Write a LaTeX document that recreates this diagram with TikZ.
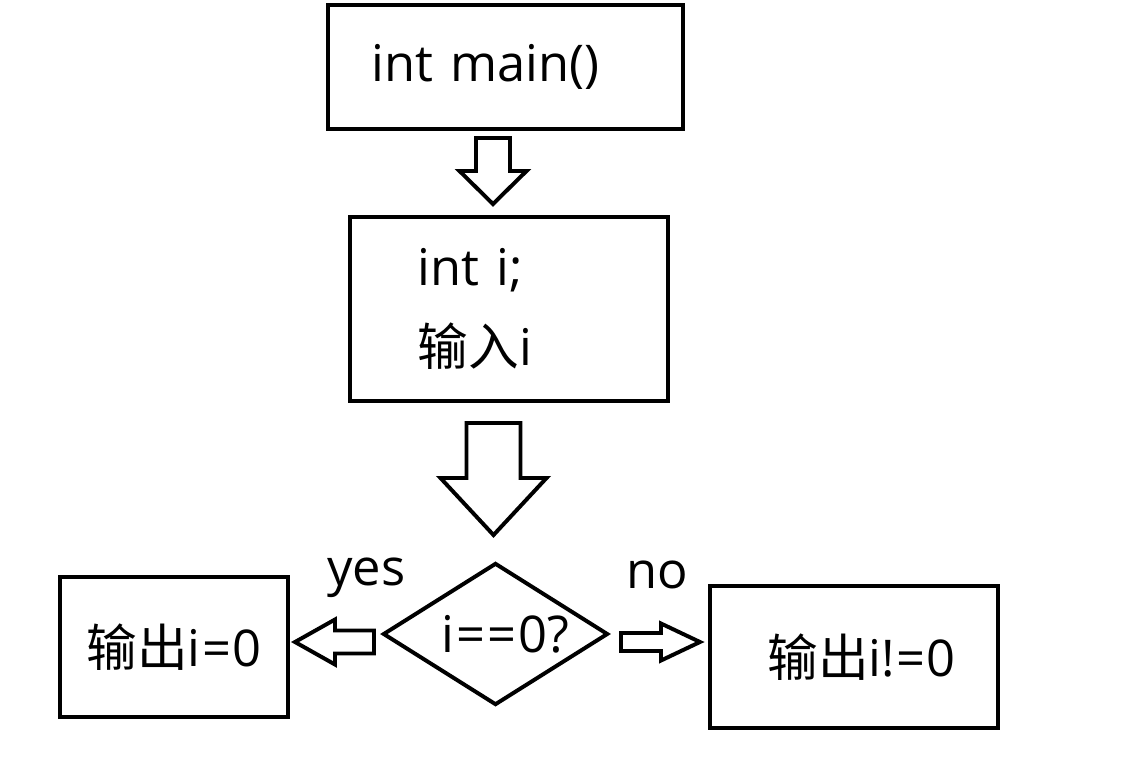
\documentclass[tikz,border=0pt]{standalone}
\usepackage{fontspec}
\setmainfont{Open Sans}
\newfontfamily\cjk{Noto Sans CJK SC}
\usetikzlibrary{shapes.geometric,calc,positioning}
\tikzset{
	every node/.style={font=\fontsize{36}{57}\selectfont},
	box/.style = {
			draw, rectangle,
			line width = 2.8pt,
			inner sep  = 0pt,
		},
	cond/.style = {
			draw, diamond, aspect=1.58,
			line width = 2.8pt,
			inner sep  = 0pt,
		},
	fat/.style = {draw, fill=white, line width=2.8pt, line join=miter},
	% block arrow, tip at the origin, pointing along +x
	% #1 length, #2 half shaft, #3 half head, #4 head length
	pics/fatarrow/.style n args={4}{code={
				\draw[fat] (0,0) -- (-#4,#3) -- (-#4,#2) -- (-#1,#2) -- (-#1,-#2)
				-- (-#4,-#2) -- (-#4,-#3) -- cycle;
			}},
}

\begin{document}
\begin{tikzpicture}[x=0.025cm, y=-0.025cm]
	\useasboundingbox (0,0) rectangle (1128,762);

	\node[box, minimum width=8.875cm, minimum height=3.1cm,
		inner xsep=1.1cm, text width=6.675cm, align=left] (main) at (505.5,67) {\raisebox{-3pt}{int main()}};
	\node[box, minimum width=7.95cm, minimum height=4.6cm,
		inner xsep=1.7cm, text width=4.55cm, align=left] (decl) at (509,309) {int i;\\{\cjk 输入}i};
	\node[cond, minimum width=5.625cm, minimum height=3.55cm] (test) at (495.5,634) {\kern14pt i{\kern1pt=\kern2pt=\kern1pt}0?};
	\node[box, minimum width=5.7cm, minimum height=3.5cm] (yesbox) at (174,647) {{\cjk 输出}i{\kern1pt=\kern1pt}0};
	\node[box, minimum width=7.2cm, minimum height=3.55cm] (nobox) at (854,657) {\kern11pt{\cjk 输出}i!{\kern1pt=\kern1pt}0};

	% branch labels
	\node (yes) at ($(test)+(-129,-56)$) {yes};
	\node (no) at ($(test)+(161.5,-59)$) {no};

	% arrows
	\pic[rotate=-90] at ($(decl.north)+(-16,-11)$) {fatarrow={66}{17}{33.5}{33}};
	\pic[rotate=-90] at ($(test.north)+(-2,-26)$) {fatarrow={112}{27}{53}{57}};
	\pic[rotate=180] at ($(yesbox.east)+(5,-5)$) {fatarrow={79}{11.5}{22.5}{40}};
	\pic at ($(nobox.west)+(-8,-15)$) {fatarrow={79}{9}{18.5}{39}};
\end{tikzpicture}
\end{document}
